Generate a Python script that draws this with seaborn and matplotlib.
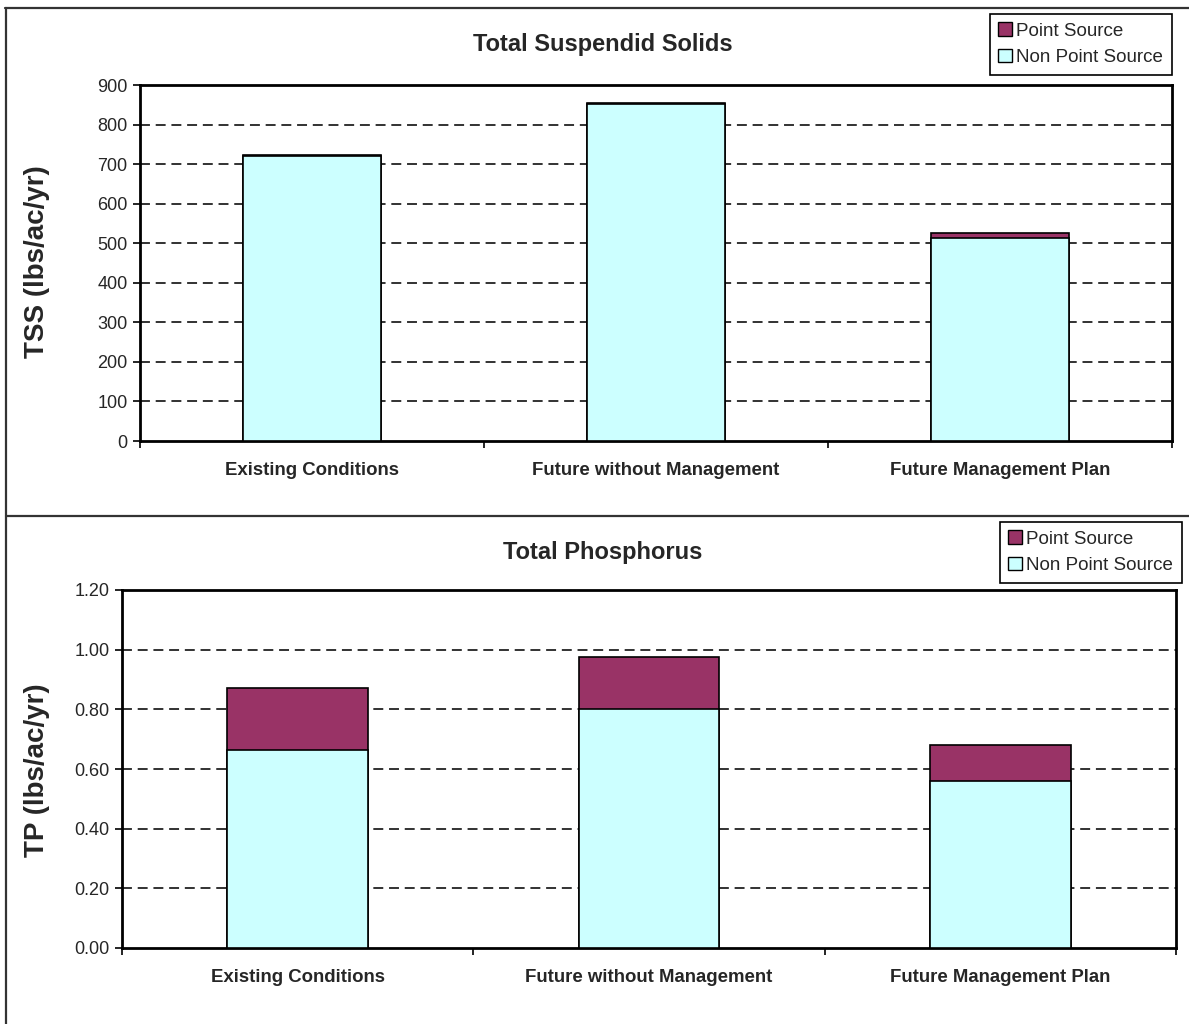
import matplotlib
matplotlib.use("Agg")
import matplotlib.pyplot as plt
from matplotlib.patches import Patch
from matplotlib.lines import Line2D
import numpy as np
import pandas as pd
import seaborn as sns

# --- data ---
scenarios = ["Existing Conditions", "Future without Management", "Future Management Plan"]
tss_nonpoint = [720, 852, 513]
tss_point = [2, 3, 12]
tp_nonpoint = [0.665, 0.80, 0.56]
tp_point = [0.205, 0.175, 0.12]

series_names = ["Point Source", "Non Point Source"]
point_color = "#993366"
nonpoint_color = "#CCFFFF"

sns.set_theme(style="white")
plt.rcParams["font.family"] = ["Liberation Sans", "DejaVu Sans"]

fig = plt.figure(figsize=(11.89, 10.24), dpi=100)

ax_top = fig.add_axes([140 / 1189, 1 - 441 / 1024, (1172 - 140) / 1189, (441 - 85) / 1024])
ax_bot = fig.add_axes([122 / 1189, 1 - 948 / 1024, (1176 - 122) / 1189, (948 - 590) / 1024])


def stacked(ax, nonpoint, point, ymax, step, fmt):
    df = pd.DataFrame({
        "scenario": scenarios,
        "total": np.array(nonpoint) + np.array(point),
        "nonpoint": nonpoint,
    })
    sns.barplot(data=df, x="scenario", y="total", color=point_color, saturation=1,
                width=0.4, edgecolor="black", linewidth=1.2, ax=ax, zorder=3)
    sns.barplot(data=df, x="scenario", y="nonpoint", color=nonpoint_color, saturation=1,
                width=0.4, edgecolor="black", linewidth=1.2, ax=ax, zorder=4)
    ax.set_xlim(-0.5, 2.5)
    ax.set_ylim(0, ymax)
    ticks = np.arange(0, ymax + step / 2, step)
    ax.set_yticks(ticks)
    ax.set_yticklabels([fmt.format(t) for t in ticks], fontsize=13)
    ax.set_xlabel("")
    ax.set_ylabel("")
    ax.set_xticks([0, 1, 2])
    ax.set_xticklabels(scenarios, fontsize=13.4, fontweight="bold")
    ax.set_xticks([-0.5, 0.5, 1.5, 2.5], minor=True)
    ax.tick_params(axis="x", which="major", length=0, pad=15)
    ax.tick_params(axis="x", which="minor", direction="out", length=5, width=1.2,
                   color="black", bottom=True)
    ax.tick_params(axis="y", direction="out", length=5, width=1.2, color="black",
                   left=True, pad=4)
    for t in ticks[1:-1]:
        ax.axhline(t, color="#222222", lw=1.3, ls=(0, (5.5, 3.2)), zorder=1)
    for s in ax.spines.values():
        s.set_visible(True)
        s.set_color("black")
        s.set_linewidth(2.0)
    ax.set_facecolor("white")


stacked(ax_top, tss_nonpoint, tss_point, 900, 100, "{:.0f}")
stacked(ax_bot, tp_nonpoint, tp_point, 1.2, 0.2, "{:.2f}")

# titles and axis labels
fig.text(603 / 1189, 1 - 45 / 1024, "Total Suspendid Solids", ha="center", va="center",
         fontsize=17, fontweight="bold")
fig.text(603 / 1189, 1 - 553 / 1024, "Total Phosphorus", ha="center", va="center",
         fontsize=17, fontweight="bold")
fig.text(37 / 1189, 1 - 262 / 1024, "TSS (lbs/ac/yr)", ha="center", va="center",
         rotation=90, fontsize=20, fontweight="bold")
fig.text(37 / 1189, 1 - 770 / 1024, "TP (lbs/ac/yr)", ha="center", va="center",
         rotation=90, fontsize=20, fontweight="bold")

# legends
handles = [Patch(facecolor=point_color, edgecolor="black", lw=1),
           Patch(facecolor=nonpoint_color, edgecolor="black", lw=1)]
for left, top in [(990, 14), (1000, 522)]:
    leg = fig.legend(handles, series_names, loc="upper left",
                     bbox_to_anchor=(left / 1189, 1 - top / 1024),
                     bbox_transform=fig.transFigure, fontsize=13.5, frameon=True,
                     fancybox=False, framealpha=1, edgecolor="black",
                     handlelength=0.7, handleheight=0.7, handletextpad=0.25,
                     labelspacing=0.5, borderpad=0.45, borderaxespad=0)
    leg.get_frame().set_linewidth(1.2)

# panel frame lines
frame_kw = dict(color="#333333", lw=1.6, transform=fig.transFigure)
fig.add_artist(Line2D([5 / 1189, 1.0], [1 - 8 / 1024, 1 - 8 / 1024], **frame_kw))
fig.add_artist(Line2D([6 / 1189, 6 / 1189], [1 - 8 / 1024, 0.0], **frame_kw))
fig.add_artist(Line2D([6 / 1189, 1.0], [1 - 516 / 1024, 1 - 516 / 1024], **frame_kw))

fig.savefig("out.png", dpi=100, facecolor="white")
